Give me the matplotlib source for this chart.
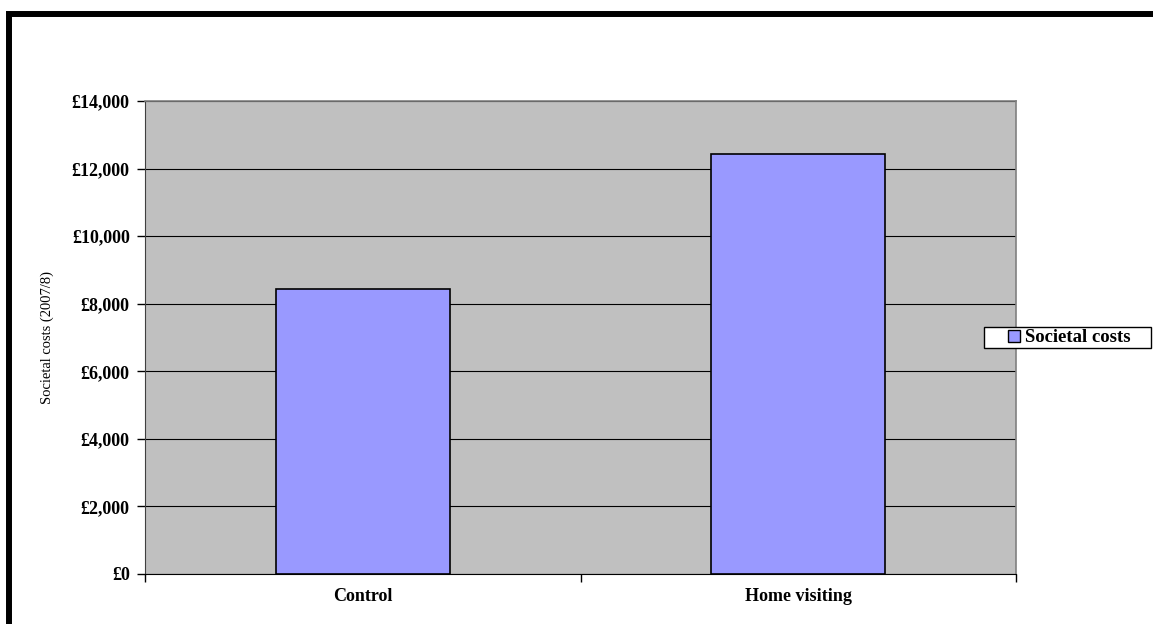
import matplotlib.pyplot as plt
from matplotlib.patches import Rectangle
from matplotlib.ticker import FuncFormatter

# Costs per group
groups = ['Control', 'Home visiting']
costs = [8430, 12430]
series_name = 'Societal costs'
y_label = 'Societal costs (2007/8)'
y_ticks = [0, 2000, 4000, 6000, 8000, 10000, 12000, 14000]

plt.rcParams['font.family'] = ['Liberation Serif', 'DejaVu Serif']

W, H = 1153, 624
fig = plt.figure(figsize=(W / 100, H / 100), dpi=100)
ax = fig.add_axes([145 / W, 1 - 574 / H, 871 / W, 473 / H])
ax.set_facecolor('#c0c0c0')

x = range(len(groups))
ax.bar(x, costs, width=0.4, color='#9999ff', edgecolor='black',
       linewidth=1.2, label=series_name, zorder=3)

ax.set_xlim(-0.5, len(groups) - 0.5)
ax.set_ylim(0, 14000)
ax.set_yticks(y_ticks)
ax.yaxis.set_major_formatter(FuncFormatter(lambda v, p: '£{:,.0f}'.format(v)))
ax.yaxis.grid(True, color='black', linewidth=0.8, zorder=1)
ax.set_axisbelow(True)

# tick marks sit between categories, labels under each category
ax.set_xticks([i - 0.5 for i in range(len(groups) + 1)])
ax.set_xticklabels([])
ax.set_xticks(list(x), minor=True)
ax.set_xticklabels(groups, minor=True, fontsize=13, fontweight='bold')
ax.tick_params(axis='x', which='major', direction='out', length=6, width=1)
ax.tick_params(axis='x', which='minor', length=0, pad=10)
ax.tick_params(axis='y', direction='out', length=6, width=1, pad=5)
for lab in ax.get_yticklabels():
    lab.set_fontsize(13)
    lab.set_fontweight('bold')

ax.set_ylabel(y_label, fontsize=10.5, labelpad=13)

for side in ['top', 'right']:
    ax.spines[side].set_color('#808080')
    ax.spines[side].set_linewidth(1.2)
ax.spines['left'].set_color('#404040')
ax.spines['bottom'].set_color('black')

# legend without its own frame; the box is drawn separately so it can be wider
leg = fig.legend(loc='center left', bbox_to_anchor=(1008 / W, 1 - 338 / H),
                 frameon=False, prop={'weight': 'bold', 'size': 13.5},
                 handlelength=0.64, handleheight=0.64, handletextpad=0.25,
                 borderpad=0, borderaxespad=0)
for h in leg.legend_handles:
    h.set_linewidth(1)
fig.add_artist(Rectangle((984 / W, 1 - 348 / H), 167 / W, 21 / H,
                         transform=fig.transFigure, facecolor='white',
                         edgecolor='black', linewidth=1, zorder=4))

# heavy frame along the top and left edges of the sheet
fig.add_artist(Rectangle((9 / W, -0.2), 1.2, 1.2 - 13.5 / H,
                         transform=fig.transFigure, fill=False,
                         edgecolor='black', linewidth=4.3))

fig.savefig('out.png', dpi=100)
